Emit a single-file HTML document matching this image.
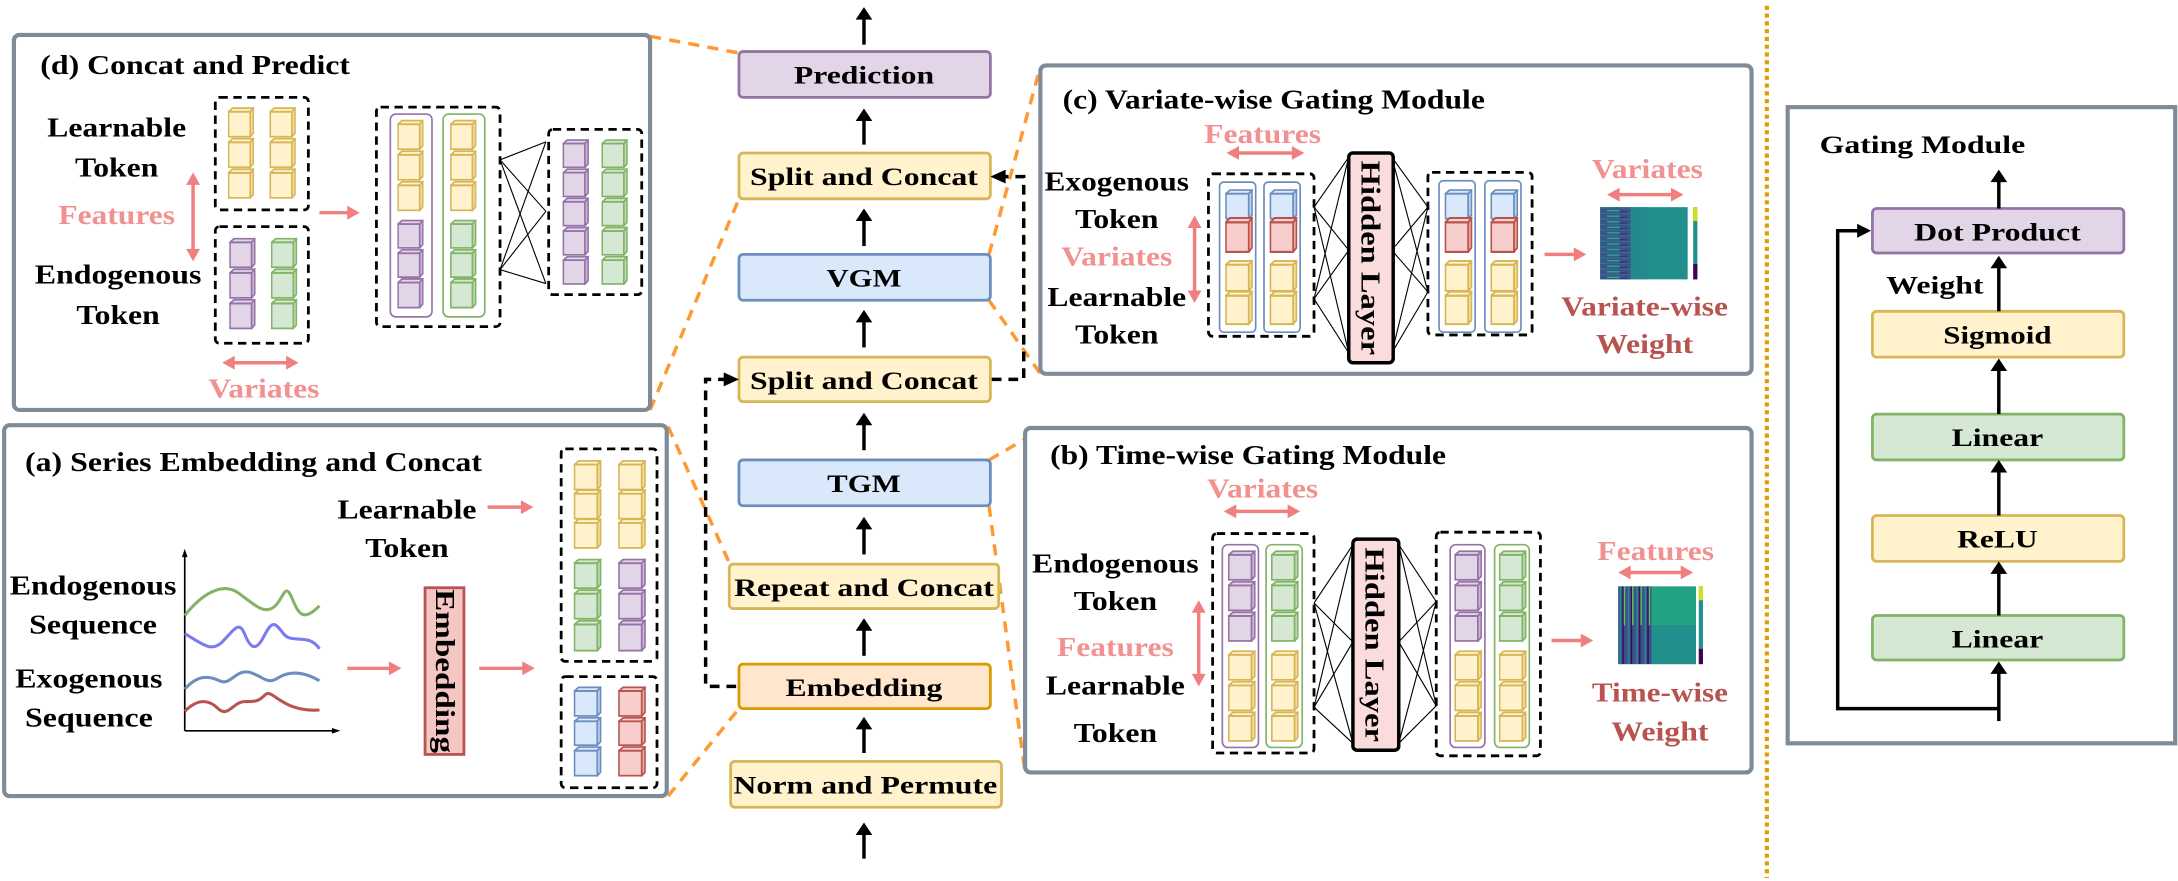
<!DOCTYPE html>
<html><head><meta charset="utf-8"><style>
html,body{margin:0;padding:0;background:#fff;}
svg{display:block;}
text{font-family:"Liberation Serif","Times New Roman",serif;font-weight:bold;}
</style></head><body>
<svg width="2178" height="881" viewBox="0 0 1568 634" xmlns="http://www.w3.org/2000/svg" font-family="Liberation Serif, serif">
<defs>
<symbol id="cy" viewBox="0 0 20 20" preserveAspectRatio="none"><g stroke="#d6b656" stroke-width="1.2" fill="#fff2cc"><rect x="0.6" y="3" width="16.4" height="16.4"/><polygon points="0.6,3 3.6,0.6 19.4,0.6 17,3"/><polygon points="17,3 19.4,0.6 19.4,17 17,19.4" fill="#f2dc9a"/></g></symbol>
<symbol id="cp" viewBox="0 0 20 20" preserveAspectRatio="none"><g stroke="#9673a6" stroke-width="1.2" fill="#e1d5e7"><rect x="0.6" y="3" width="16.4" height="16.4"/><polygon points="0.6,3 3.6,0.6 19.4,0.6 17,3"/><polygon points="17,3 19.4,0.6 19.4,17 17,19.4" fill="#cbb6d6"/></g></symbol>
<symbol id="cg" viewBox="0 0 20 20" preserveAspectRatio="none"><g stroke="#82b366" stroke-width="1.2" fill="#d5e8d4"><rect x="0.6" y="3" width="16.4" height="16.4"/><polygon points="0.6,3 3.6,0.6 19.4,0.6 17,3"/><polygon points="17,3 19.4,0.6 19.4,17 17,19.4" fill="#b9d9b5"/></g></symbol>
<symbol id="cb" viewBox="0 0 20 20" preserveAspectRatio="none"><g stroke="#6c8ebf" stroke-width="1.2" fill="#dae8fc"><rect x="0.6" y="3" width="16.4" height="16.4"/><polygon points="0.6,3 3.6,0.6 19.4,0.6 17,3"/><polygon points="17,3 19.4,0.6 19.4,17 17,19.4" fill="#bcd2f0"/></g></symbol>
<symbol id="cr" viewBox="0 0 20 20" preserveAspectRatio="none"><g stroke="#b85450" stroke-width="1.2" fill="#f8cecc"><rect x="0.6" y="3" width="16.4" height="16.4"/><polygon points="0.6,3 3.6,0.6 19.4,0.6 17,3"/><polygon points="17,3 19.4,0.6 19.4,17 17,19.4" fill="#eba9a6"/></g></symbol>
<pattern id="hv" x="1152" y="149" width="22" height="4" patternUnits="userSpaceOnUse">
<rect width="22" height="4" fill="#3b528b"/>
<rect x="0" y="0" width="22" height="1" fill="#2c728e"/>
<rect x="5" y="2" width="9" height="1" fill="#27ad81"/>
<rect x="14" y="3" width="6" height="1" fill="#472d7b"/>
</pattern>
<pattern id="hb" x="1165" y="422" width="6" height="56" patternUnits="userSpaceOnUse">
<rect width="6" height="56" fill="#3b528b"/>
<rect x="1" width="1" height="56" fill="#21908d"/>
<rect x="3" width="1" height="56" fill="#440154"/>
<rect x="4" width="1" height="28" fill="#5ec962"/>
</pattern>
</defs>

<line x1="1272" y1="4" x2="1272" y2="632" stroke="#d9a000" stroke-width="3" stroke-dasharray="3,2.6"/>

<g stroke="#ff9933" stroke-width="2.5" stroke-dasharray="8,6" fill="none">
<line x1="468" y1="26" x2="532" y2="38"/>
<line x1="468" y1="295" x2="532" y2="143"/>
<line x1="481" y1="307" x2="525" y2="405"/>
<line x1="481" y1="573" x2="532" y2="510"/>
<line x1="712" y1="183" x2="749" y2="48"/>
<line x1="712" y1="216" x2="749" y2="269"/>
<line x1="712" y1="331" x2="738" y2="316"/>
<line x1="712" y1="364" x2="738" y2="556"/>
</g>

<!-- Panel (d) -->
<rect x="10" y="25" width="458" height="270" rx="4" fill="#fff" stroke="#808b98" stroke-width="3"/>
<text x="29" y="53" font-size="20" textLength="223" lengthAdjust="spacingAndGlyphs">(d) Concat and Predict</text>
<g font-size="20" text-anchor="middle">
<text x="84" y="98" textLength="100" lengthAdjust="spacingAndGlyphs">Learnable</text>
<text x="84" y="127" textLength="60" lengthAdjust="spacingAndGlyphs">Token</text>
<text x="84" y="161" fill="#f29191" textLength="84" lengthAdjust="spacingAndGlyphs">Features</text>
<text x="85" y="204" textLength="120" lengthAdjust="spacingAndGlyphs">Endogenous</text>
<text x="85" y="233" textLength="60" lengthAdjust="spacingAndGlyphs">Token</text>
<text x="190" y="286" fill="#f29191" textLength="80" lengthAdjust="spacingAndGlyphs">Variates</text>
</g>
<g stroke="#000" stroke-width="2" stroke-dasharray="6,4" fill="none">
<rect x="155" y="70" width="67" height="81" rx="3"/>
<rect x="155" y="163" width="67" height="84" rx="3"/>
<rect x="271" y="77" width="89" height="158" rx="3"/>
<rect x="395" y="93" width="67" height="119" rx="3"/>
</g>
<use href="#cy" x="164" y="77" width="19" height="22"/><use href="#cy" x="164" y="99" width="19" height="22"/><use href="#cy" x="164" y="121" width="19" height="22"/>
<use href="#cy" x="194" y="77" width="19" height="22"/><use href="#cy" x="194" y="99" width="19" height="22"/><use href="#cy" x="194" y="121" width="19" height="22"/>
<use href="#cp" x="165" y="171" width="19" height="22"/><use href="#cp" x="165" y="193" width="19" height="22"/><use href="#cp" x="165" y="215" width="19" height="22"/>
<use href="#cg" x="195" y="171" width="19" height="22"/><use href="#cg" x="195" y="193" width="19" height="22"/><use href="#cg" x="195" y="215" width="19" height="22"/>
<rect x="281" y="82" width="30" height="146" rx="4" fill="none" stroke="#9673a6" stroke-width="1.2"/>
<rect x="319" y="82" width="30" height="146" rx="4" fill="none" stroke="#82b366" stroke-width="1.2"/>
<use href="#cy" x="286" y="86" width="19" height="22"/><use href="#cy" x="286" y="108" width="19" height="22"/><use href="#cy" x="286" y="130" width="19" height="22"/>
<use href="#cp" x="286" y="158" width="19" height="21"/><use href="#cp" x="286" y="179" width="19" height="21"/><use href="#cp" x="286" y="200" width="19" height="22"/>
<use href="#cy" x="324" y="86" width="19" height="22"/><use href="#cy" x="324" y="108" width="19" height="22"/><use href="#cy" x="324" y="130" width="19" height="22"/>
<use href="#cg" x="324" y="158" width="19" height="21"/><use href="#cg" x="324" y="179" width="19" height="21"/><use href="#cg" x="324" y="200" width="19" height="22"/>
<use href="#cp" x="405" y="100" width="19" height="21"/><use href="#cp" x="405" y="121" width="19" height="21"/><use href="#cp" x="405" y="142" width="19" height="21"/><use href="#cp" x="405" y="163" width="19" height="21"/><use href="#cp" x="405" y="184" width="19" height="21"/>
<use href="#cg" x="433" y="100" width="19" height="21"/><use href="#cg" x="433" y="121" width="19" height="21"/><use href="#cg" x="433" y="142" width="19" height="21"/><use href="#cg" x="433" y="163" width="19" height="21"/><use href="#cg" x="433" y="184" width="19" height="21"/>
<g stroke="#000" stroke-width="0.8">
<line x1="360" y1="115" x2="393" y2="102"/><line x1="360" y1="115" x2="393" y2="152"/><line x1="360" y1="115" x2="393" y2="204"/>
<line x1="360" y1="194" x2="393" y2="102"/><line x1="360" y1="194" x2="393" y2="152"/><line x1="360" y1="194" x2="393" y2="204"/>
</g>

<!-- Panel (a) -->
<rect x="3" y="306" width="477" height="267" rx="4" fill="#fff" stroke="#808b98" stroke-width="3"/>
<text x="18" y="339" font-size="20" textLength="329" lengthAdjust="spacingAndGlyphs">(a) Series Embedding and Concat</text>
<g font-size="20" text-anchor="middle">
<text x="293" y="373" textLength="100" lengthAdjust="spacingAndGlyphs">Learnable</text>
<text x="293" y="401" textLength="60" lengthAdjust="spacingAndGlyphs">Token</text>
<text x="67" y="428" textLength="120" lengthAdjust="spacingAndGlyphs">Endogenous</text>
<text x="67" y="456" textLength="92" lengthAdjust="spacingAndGlyphs">Sequence</text>
<text x="64" y="495" textLength="106" lengthAdjust="spacingAndGlyphs">Exogenous</text>
<text x="64" y="523" textLength="92" lengthAdjust="spacingAndGlyphs">Sequence</text>
</g>
<g stroke="#000" stroke-width="1.2" fill="none">
<line x1="133" y1="526" x2="133" y2="399"/><line x1="133" y1="526" x2="241" y2="526"/>
</g>
<polygon points="133,395 131,401 135,401" fill="#000"/><polygon points="245,526 239,524 239,528" fill="#000"/>
<g fill="none" stroke-width="2.2">
<path d="M133,443 C145,428 160,418 172,427 S190,442 197,437 S205,418 210,430 S218,448 230,436" stroke="#82b366"/>
<path d="M133,456 C145,463 152,470 160,462 S172,446 176,456 S184,470 190,458 S198,448 204,456 S222,455 230,467" stroke="#7b7bf0"/>
<path d="M133,496 C142,486 150,486 158,490 S170,481 180,484 S192,493 200,488 S218,483 230,490" stroke="#6c8ebf"/>
<path d="M133,512 C142,503 150,503 157,510 S168,505 176,505 S186,505 191,500 S203,513 230,511" stroke="#b85450"/>
</g>
<rect x="306" y="423" width="28" height="120" fill="#f4c7c3" stroke="#b85450" stroke-width="2"/>
<text transform="translate(314,483) rotate(90)" font-size="20" text-anchor="middle" textLength="118" lengthAdjust="spacingAndGlyphs">Embedding</text>
<g stroke="#000" stroke-width="2" stroke-dasharray="6,4" fill="none">
<rect x="404" y="323" width="69" height="153" rx="3"/>
<rect x="404" y="487" width="69" height="80" rx="3"/>
</g>
<use href="#cy" x="413" y="331" width="20" height="22"/><use href="#cy" x="413" y="352" width="20" height="22"/><use href="#cy" x="413" y="373" width="20" height="22"/>
<use href="#cy" x="445" y="331" width="20" height="22"/><use href="#cy" x="445" y="352" width="20" height="22"/><use href="#cy" x="445" y="373" width="20" height="22"/>
<use href="#cg" x="413" y="402" width="20" height="22"/><use href="#cg" x="413" y="424" width="20" height="22"/><use href="#cg" x="413" y="446" width="20" height="23"/>
<use href="#cp" x="445" y="402" width="20" height="22"/><use href="#cp" x="445" y="424" width="20" height="22"/><use href="#cp" x="445" y="446" width="20" height="23"/>
<use href="#cb" x="413" y="494" width="20" height="22"/><use href="#cb" x="413" y="516" width="20" height="21"/><use href="#cb" x="413" y="537" width="20" height="22"/>
<use href="#cr" x="445" y="494" width="20" height="22"/><use href="#cr" x="445" y="516" width="20" height="21"/><use href="#cr" x="445" y="537" width="20" height="22"/>

<!-- Panel (c) -->
<rect x="749" y="47" width="512" height="222" rx="4" fill="#fff" stroke="#808b98" stroke-width="3"/>
<text x="765" y="78" font-size="20" textLength="304" lengthAdjust="spacingAndGlyphs">(c) Variate-wise Gating Module</text>
<g font-size="20" text-anchor="middle">
<text x="909" y="103" fill="#f29191" textLength="84" lengthAdjust="spacingAndGlyphs">Features</text>
<text x="804" y="137" textLength="104" lengthAdjust="spacingAndGlyphs">Exogenous</text>
<text x="804" y="164" textLength="60" lengthAdjust="spacingAndGlyphs">Token</text>
<text x="804" y="191" fill="#f29191" textLength="80" lengthAdjust="spacingAndGlyphs">Variates</text>
<text x="804" y="220" textLength="100" lengthAdjust="spacingAndGlyphs">Learnable</text>
<text x="804" y="247" textLength="60" lengthAdjust="spacingAndGlyphs">Token</text>
<text x="1186" y="128" fill="#f29191" textLength="80" lengthAdjust="spacingAndGlyphs">Variates</text>
<text x="1184" y="227" fill="#b85450" textLength="120" lengthAdjust="spacingAndGlyphs">Variate-wise</text>
<text x="1184" y="254" fill="#b85450" textLength="70" lengthAdjust="spacingAndGlyphs">Weight</text>
</g>
<g stroke="#000" stroke-width="2" stroke-dasharray="6,4" fill="none">
<rect x="870" y="125" width="76" height="117" rx="3"/>
<rect x="1028" y="124" width="75" height="117" rx="3"/>
</g>
<g fill="none" stroke="#6c8ebf" stroke-width="1.2">
<rect x="878" y="131" width="26" height="108" rx="3"/><rect x="910" y="131" width="26" height="108" rx="3"/>
<rect x="1036" y="130" width="26" height="109" rx="3"/><rect x="1069" y="130" width="26" height="109" rx="3"/>
</g>
<use href="#cb" x="882" y="136" width="20" height="22"/><use href="#cr" x="882" y="156" width="20" height="26"/><use href="#cy" x="882" y="187" width="20" height="23"/><use href="#cy" x="882" y="209" width="20" height="25"/>
<use href="#cb" x="914" y="136" width="20" height="22"/><use href="#cr" x="914" y="156" width="20" height="26"/><use href="#cy" x="914" y="187" width="20" height="23"/><use href="#cy" x="914" y="209" width="20" height="25"/>
<use href="#cb" x="1040" y="136" width="20" height="22"/><use href="#cr" x="1040" y="156" width="20" height="26"/><use href="#cy" x="1040" y="187" width="20" height="23"/><use href="#cy" x="1040" y="209" width="20" height="25"/>
<use href="#cb" x="1073" y="136" width="20" height="22"/><use href="#cr" x="1073" y="156" width="20" height="26"/><use href="#cy" x="1073" y="187" width="20" height="23"/><use href="#cy" x="1073" y="209" width="20" height="25"/>
<g stroke="#000" stroke-width="0.8">
<line x1="946" y1="149" x2="971" y2="113"/><line x1="946" y1="149" x2="971" y2="180"/><line x1="946" y1="149" x2="971" y2="254"/>
<line x1="946" y1="215" x2="971" y2="113"/><line x1="946" y1="215" x2="971" y2="180"/><line x1="946" y1="215" x2="971" y2="254"/>
<line x1="1002" y1="113" x2="1028" y2="149"/><line x1="1002" y1="180" x2="1028" y2="149"/><line x1="1002" y1="254" x2="1028" y2="149"/>
<line x1="1002" y1="113" x2="1028" y2="210"/><line x1="1002" y1="180" x2="1028" y2="210"/><line x1="1002" y1="254" x2="1028" y2="210"/>
</g>
<rect x="971" y="110" width="32" height="151" rx="3" fill="#fadcdc" stroke="#000" stroke-width="2.5"/>
<text transform="translate(980,185.5) rotate(90)" font-size="20" text-anchor="middle" textLength="140" lengthAdjust="spacingAndGlyphs">Hidden Layer</text>
<rect x="1152" y="149" width="63" height="52" fill="#21908d"/>
<rect x="1152" y="149" width="22" height="52" fill="url(#hv)"/>
<rect x="1174" y="149" width="12" height="52" fill="#25858e" opacity="0.6"/>
<rect x="1219" y="149" width="3" height="52" fill="#21908d"/><rect x="1219" y="149" width="3" height="10" fill="#cde11d"/><rect x="1219" y="190" width="3" height="11" fill="#440154"/>

<!-- Panel (b) -->
<rect x="738" y="308" width="523" height="248" rx="4" fill="#fff" stroke="#808b98" stroke-width="3"/>
<text x="756" y="334" font-size="20" textLength="285" lengthAdjust="spacingAndGlyphs">(b) Time-wise Gating Module</text>
<g font-size="20" text-anchor="middle">
<text x="909" y="358" fill="#f29191" textLength="80" lengthAdjust="spacingAndGlyphs">Variates</text>
<text x="803" y="412" textLength="120" lengthAdjust="spacingAndGlyphs">Endogenous</text>
<text x="803" y="439" textLength="60" lengthAdjust="spacingAndGlyphs">Token</text>
<text x="803" y="472" fill="#f29191" textLength="84" lengthAdjust="spacingAndGlyphs">Features</text>
<text x="803" y="500" textLength="100" lengthAdjust="spacingAndGlyphs">Learnable</text>
<text x="803" y="534" textLength="60" lengthAdjust="spacingAndGlyphs">Token</text>
<text x="1192" y="403" fill="#f29191" textLength="84" lengthAdjust="spacingAndGlyphs">Features</text>
<text x="1195" y="505" fill="#b85450" textLength="98" lengthAdjust="spacingAndGlyphs">Time-wise</text>
<text x="1195" y="533" fill="#b85450" textLength="70" lengthAdjust="spacingAndGlyphs">Weight</text>
</g>
<g stroke="#000" stroke-width="2" stroke-dasharray="6,4" fill="none">
<rect x="873" y="384" width="73" height="158" rx="3"/>
<rect x="1034" y="383" width="75" height="161" rx="3"/>
</g>
<g fill="none" stroke-width="1.2">
<rect x="880" y="392" width="26" height="146" rx="4" stroke="#9673a6"/><rect x="911.5" y="392" width="26" height="146" rx="4" stroke="#82b366"/>
<rect x="1044" y="392" width="25" height="146" rx="4" stroke="#9673a6"/><rect x="1076" y="392" width="25" height="146" rx="4" stroke="#82b366"/>
</g>
<use href="#cp" x="884" y="396" width="20" height="22"/><use href="#cp" x="884" y="418" width="20" height="22"/><use href="#cp" x="884" y="440" width="20" height="22"/>
<use href="#cy" x="884" y="468" width="20" height="22"/><use href="#cy" x="884" y="490" width="20" height="22"/><use href="#cy" x="884" y="512" width="20" height="22"/>
<use href="#cg" x="915" y="396" width="20" height="22"/><use href="#cg" x="915" y="418" width="20" height="22"/><use href="#cg" x="915" y="440" width="20" height="22"/>
<use href="#cy" x="915" y="468" width="20" height="22"/><use href="#cy" x="915" y="490" width="20" height="22"/><use href="#cy" x="915" y="512" width="20" height="22"/>
<use href="#cp" x="1047" y="396" width="20" height="22"/><use href="#cp" x="1047" y="418" width="20" height="22"/><use href="#cp" x="1047" y="440" width="20" height="22"/>
<use href="#cy" x="1047" y="468" width="20" height="22"/><use href="#cy" x="1047" y="490" width="20" height="22"/><use href="#cy" x="1047" y="512" width="20" height="22"/>
<use href="#cg" x="1079" y="396" width="20" height="22"/><use href="#cg" x="1079" y="418" width="20" height="22"/><use href="#cg" x="1079" y="440" width="20" height="22"/>
<use href="#cy" x="1079" y="468" width="20" height="22"/><use href="#cy" x="1079" y="490" width="20" height="22"/><use href="#cy" x="1079" y="512" width="20" height="22"/>
<g stroke="#000" stroke-width="0.8">
<line x1="946" y1="434" x2="974" y2="392"/><line x1="946" y1="434" x2="974" y2="462"/><line x1="946" y1="434" x2="974" y2="535"/>
<line x1="946" y1="509" x2="974" y2="392"/><line x1="946" y1="509" x2="974" y2="462"/><line x1="946" y1="509" x2="974" y2="535"/>
<line x1="1007" y1="392" x2="1034" y2="433"/><line x1="1007" y1="462" x2="1034" y2="433"/><line x1="1007" y1="535" x2="1034" y2="433"/>
<line x1="1007" y1="392" x2="1034" y2="508"/><line x1="1007" y1="462" x2="1034" y2="508"/><line x1="1007" y1="535" x2="1034" y2="508"/>
</g>
<rect x="974" y="388" width="33" height="152" rx="3" fill="#fadcdc" stroke="#000" stroke-width="2.5"/>
<text transform="translate(983,464) rotate(90)" font-size="20" text-anchor="middle" textLength="140" lengthAdjust="spacingAndGlyphs">Hidden Layer</text>
<rect x="1165" y="422" width="56" height="56" fill="#22a384"/>
<rect x="1165" y="422" width="24" height="56" fill="url(#hb)"/>
<rect x="1189" y="450" width="32" height="28" fill="#21908d"/>
<rect x="1223" y="422" width="3" height="56" fill="#21908d"/><rect x="1223" y="422" width="3" height="10" fill="#cde11d"/><rect x="1223" y="467" width="3" height="11" fill="#440154"/>

<!-- pink arrows -->
<g stroke="#f08080" stroke-width="2.5" fill="none">
<line x1="139" y1="131" x2="139" y2="181"/>
<line x1="166" y1="261" x2="209" y2="261"/>
<line x1="230" y1="153" x2="252" y2="153"/>
<line x1="351" y1="365" x2="377" y2="365"/>
<line x1="250" y1="481" x2="282" y2="481"/>
<line x1="345" y1="481" x2="378" y2="481"/>
<line x1="889" y1="110" x2="933" y2="110"/>
<line x1="860" y1="161" x2="860" y2="212"/>
<line x1="1112" y1="183" x2="1135" y2="183"/>
<line x1="1163" y1="140" x2="1206" y2="140"/>
<line x1="887" y1="368" x2="930" y2="368"/>
<line x1="863" y1="438" x2="863" y2="488"/>
<line x1="1117" y1="461" x2="1140" y2="461"/>
<line x1="1171" y1="412" x2="1213" y2="412"/>
</g>
<g fill="#f08080">
<polygon points="139,124 134,133 144,133"/><polygon points="139,188 134,179 144,179"/>
<polygon points="160,261 169,256 169,266"/><polygon points="215,261 206,256 206,266"/>
<polygon points="259,153 250,148 250,158"/>
<polygon points="384,365 375,360 375,370"/>
<polygon points="289,481 280,476 280,486"/>
<polygon points="385,481 376,476 376,486"/>
<polygon points="883,110 892,105 892,115"/><polygon points="939,110 930,105 930,115"/>
<polygon points="860,155 855,164 865,164"/><polygon points="860,218 855,209 865,209"/>
<polygon points="1142,183 1133,178 1133,188"/>
<polygon points="1157,140 1166,135 1166,145"/><polygon points="1212,140 1203,135 1203,145"/>
<polygon points="881,368 890,363 890,373"/><polygon points="936,368 927,363 927,373"/>
<polygon points="863,432 858,441 868,441"/><polygon points="863,494 858,485 868,485"/>
<polygon points="1147,461 1138,456 1138,466"/>
<polygon points="1165,412 1174,407 1174,417"/><polygon points="1219,412 1210,407 1210,417"/>
</g>

<!-- center column -->
<g stroke-width="2">
<rect x="532" y="37" width="181" height="33" rx="3" fill="#e1d5e7" stroke="#9673a6"/>
<rect x="532" y="110" width="181" height="33" rx="3" fill="#fff2cc" stroke="#d6b656"/>
<rect x="532" y="183" width="181" height="33" rx="3" fill="#dae8fc" stroke="#6c8ebf"/>
<rect x="532" y="257" width="181" height="32" rx="3" fill="#fff2cc" stroke="#d6b656"/>
<rect x="532" y="331" width="181" height="33" rx="3" fill="#dae8fc" stroke="#6c8ebf"/>
<rect x="525" y="406" width="194" height="32" rx="3" fill="#fff2cc" stroke="#d6b656"/>
<rect x="532" y="478" width="181" height="32" rx="3" fill="#ffe6cc" stroke="#d79b00"/>
<rect x="526" y="548" width="195" height="33" rx="3" fill="#fff2cc" stroke="#d6b656"/>
</g>
<g font-size="18" text-anchor="middle">
<text x="622" y="60" textLength="101" lengthAdjust="spacingAndGlyphs">Prediction</text>
<text x="622" y="133" textLength="164" lengthAdjust="spacingAndGlyphs">Split and Concat</text>
<text x="622" y="206" textLength="54" lengthAdjust="spacingAndGlyphs">VGM</text>
<text x="622" y="280" textLength="164" lengthAdjust="spacingAndGlyphs">Split and Concat</text>
<text x="622" y="354" textLength="53" lengthAdjust="spacingAndGlyphs">TGM</text>
<text x="622" y="429" textLength="187" lengthAdjust="spacingAndGlyphs">Repeat and Concat</text>
<text x="622" y="501" textLength="113" lengthAdjust="spacingAndGlyphs">Embedding</text>
<text x="623" y="571" textLength="190" lengthAdjust="spacingAndGlyphs">Norm and Permute</text>
</g>
<g stroke="#000" stroke-width="2.5">
<line x1="622" y1="32" x2="622" y2="12"/>
<line x1="622" y1="104" x2="622" y2="85"/>
<line x1="622" y1="177" x2="622" y2="157"/>
<line x1="622" y1="250" x2="622" y2="230"/>
<line x1="622" y1="324" x2="622" y2="304"/>
<line x1="622" y1="399" x2="622" y2="379"/>
<line x1="622" y1="472" x2="622" y2="452"/>
<line x1="622" y1="542" x2="622" y2="523"/>
<line x1="622" y1="618" x2="622" y2="599"/>
</g>
<g fill="#000">
<polygon points="622,5 616,14 628,14"/>
<polygon points="622,78 616,87 628,87"/>
<polygon points="622,150 616,159 628,159"/>
<polygon points="622,223 616,232 628,232"/>
<polygon points="622,297 616,306 628,306"/>
<polygon points="622,372 616,381 628,381"/>
<polygon points="622,445 616,454 628,454"/>
<polygon points="622,516 616,525 628,525"/>
<polygon points="622,592 616,601 628,601"/>
</g>
<g stroke="#000" stroke-width="2.5" stroke-dasharray="7,5" fill="none">
<polyline points="530,494 508,494 508,273 522,273"/>
<polyline points="714,273 737,273 737,127 723,127"/>
</g>
<polygon points="532,273 521,268 521,278" fill="#000"/>
<polygon points="713,127 724,122 724,132" fill="#000"/>

<!-- Gating module -->
<rect x="1287" y="77" width="279" height="458" fill="#fff" stroke="#808b98" stroke-width="3"/>
<text x="1310" y="110" font-size="18" textLength="148" lengthAdjust="spacingAndGlyphs">Gating Module</text>
<g stroke-width="2">
<rect x="1348" y="150" width="181" height="32" rx="3" fill="#e1d5e7" stroke="#9673a6"/>
<rect x="1348" y="224" width="181" height="33" rx="3" fill="#fff2cc" stroke="#d6b656"/>
<rect x="1348" y="298" width="181" height="33" rx="3" fill="#d5e8d4" stroke="#82b366"/>
<rect x="1348" y="371" width="181" height="33" rx="3" fill="#fff2cc" stroke="#d6b656"/>
<rect x="1348" y="443" width="181" height="32" rx="3" fill="#d5e8d4" stroke="#82b366"/>
</g>
<g font-size="18" text-anchor="middle">
<text x="1438" y="173" textLength="120" lengthAdjust="spacingAndGlyphs">Dot Product</text>
<text x="1438" y="247" textLength="78" lengthAdjust="spacingAndGlyphs">Sigmoid</text>
<text x="1438" y="321" textLength="66" lengthAdjust="spacingAndGlyphs">Linear</text>
<text x="1438" y="394" textLength="58" lengthAdjust="spacingAndGlyphs">ReLU</text>
<text x="1438" y="466" textLength="66" lengthAdjust="spacingAndGlyphs">Linear</text>
<text x="1393" y="211" textLength="70" lengthAdjust="spacingAndGlyphs">Weight</text>
</g>
<g stroke="#000" stroke-width="2.5" fill="none">
<line x1="1439" y1="150" x2="1439" y2="129"/>
<line x1="1439" y1="224" x2="1439" y2="191"/>
<line x1="1439" y1="298" x2="1439" y2="265"/>
<line x1="1439" y1="371" x2="1439" y2="338"/>
<line x1="1439" y1="443" x2="1439" y2="411"/>
<line x1="1439" y1="519" x2="1439" y2="483"/>
<polyline points="1439,510 1323,510 1323,166 1338,166"/>
</g>
<g fill="#000">
<polygon points="1439,122 1433,131 1445,131"/>
<polygon points="1439,184 1433,193 1445,193"/>
<polygon points="1439,258 1433,267 1445,267"/>
<polygon points="1439,331 1433,340 1445,340"/>
<polygon points="1439,404 1433,413 1445,413"/>
<polygon points="1439,476 1433,485 1445,485"/>
<polygon points="1347,166 1337,161 1337,171"/>
</g>
</svg>
</body></html>
